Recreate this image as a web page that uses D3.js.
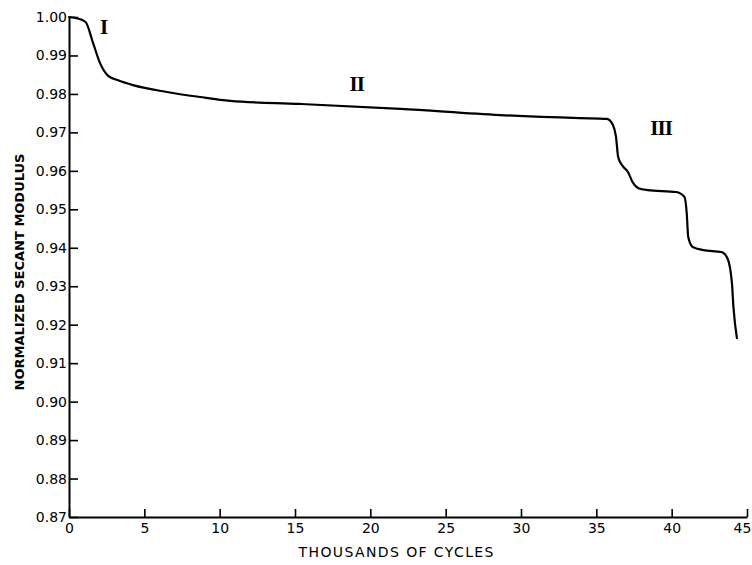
<!DOCTYPE html>
<html><head><meta charset="utf-8">
<script src="https://cdn.jsdelivr.net/npm/d3@7"></script>
<style>body{margin:0;background:#fff}svg{display:block}</style>
</head><body>
<svg id="c" width="752" height="565"></svg>
<script>
// Data
const cycles = [0, 0.5, 1.1, 1.6, 2.06, 2.6, 3.3, 4.25, 6.5, 8.7, 10.7, 15.3, 22.0, 28.6, 33.9, 35.7, 36.1, 36.3, 36.45, 36.7, 37.1, 37.4, 37.8, 38.4, 40.3, 40.85, 41.0, 41.1, 41.4, 42.1, 43.3, 43.7, 44.0, 44.1, 44.33];
const modulus = [1.000, 0.9997, 0.9987, 0.9932, 0.988, 0.9847, 0.9835, 0.9823, 0.9805, 0.9792, 0.9782, 0.9774, 0.9761, 0.9745, 0.9737, 0.9735, 0.9719, 0.969, 0.9636, 0.9615, 0.9597, 0.9571, 0.9555, 0.955, 0.9545, 0.9532, 0.949, 0.9428, 0.9402, 0.9394, 0.9389, 0.9373, 0.9308, 0.9246, 0.9165];
const xTicks = [0, 5, 10, 15, 20, 25, 30, 35, 40, 45];
const yTicks = [0.87, 0.88, 0.89, 0.90, 0.91, 0.92, 0.93, 0.94, 0.95, 0.96, 0.97, 0.98, 0.99, 1.00];
const regionLabels = ["I", "II", "III"];
const regionX = [2.3, 19.1, 39.3];
const regionY = [0.9974, 0.9826, 0.9711];
const xTitle = "THOUSANDS OF CYCLES";
const yTitle = "NORMALIZED SECANT MODULUS";

const svg = d3.select("#c");
const x = d3.scaleLinear().domain([0, 45]).range([69, 747]);
const y = d3.scaleLinear().domain([0.87, 1.00]).range([517, 17]);
const ink = "#000";
const tickFont = "DejaVu Sans, sans-serif";

const gx = svg.append("g").attr("transform", `translate(0,${y(0.87)})`)
  .call(d3.axisBottom(x).tickValues(xTicks).tickFormat(d3.format("d"))
    .tickSizeInner(-8).tickSizeOuter(0).tickPadding(6));
const gy = svg.append("g").attr("transform", `translate(${x(0)},0)`)
  .call(d3.axisLeft(y).tickValues(yTicks).tickFormat(d3.format(".2f"))
    .tickSizeInner(-9).tickSizeOuter(0).tickPadding(2));
[gx, gy].forEach(g => {
  g.select(".domain").attr("stroke", ink).attr("stroke-width", 2);
  g.selectAll(".tick line").attr("stroke", ink).attr("stroke-width", 1.6);
  g.selectAll(".tick text").attr("fill", ink).attr("font-family", tickFont).attr("font-size", 14);
});
// keep the last x label inside the window, as in the reference
gx.selectAll(".tick text").filter(d => d === 45).attr("dx", -5);

const pts = cycles.map((c, i) => [c, modulus[i]]);
svg.append("path").datum(pts)
  .attr("fill", "none").attr("stroke", ink).attr("stroke-width", 2.2)
  .attr("stroke-linejoin", "round").attr("stroke-linecap", "round")
  .attr("d", d3.line().x(d => x(d[0])).y(d => y(d[1])).curve(d3.curveMonotoneX));

svg.selectAll("text.reg").data(regionLabels).enter().append("text")
  .attr("class", "reg")
  .attr("x", (d, i) => x(regionX[i])).attr("y", (d, i) => y(regionY[i]))
  .attr("text-anchor", "middle").attr("dominant-baseline", "central")
  .attr("font-family", "Liberation Serif, serif").attr("font-weight", "bold")
  .attr("font-size", 21).attr("letter-spacing", -1).attr("fill", ink)
  .text(d => d);

svg.append("text").attr("x", 396).attr("y", 557)
  .attr("text-anchor", "middle").attr("font-family", tickFont).attr("font-size", 14)
  .attr("textLength", 195).attr("lengthAdjust", "spacing").attr("fill", ink)
  .text(xTitle);

svg.append("text").attr("transform", "translate(24,272) rotate(-90)")
  .attr("text-anchor", "middle").attr("font-family", tickFont).attr("font-size", 13)
  .attr("font-weight", "bold")
  .attr("textLength", 237).attr("lengthAdjust", "spacing").attr("fill", ink)
  .text(yTitle);
</script>
</body></html>
